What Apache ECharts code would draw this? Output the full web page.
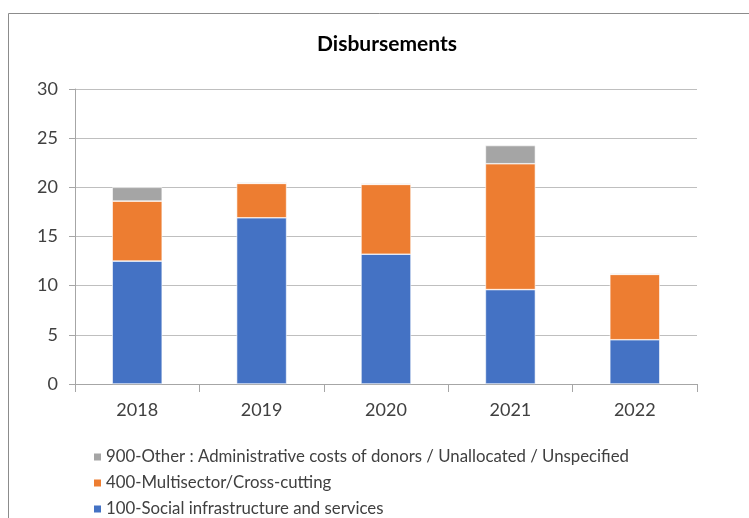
<!DOCTYPE html>
<html>
<head>
<meta charset="utf-8">
<script src="https://cdn.jsdelivr.net/npm/echarts@6/dist/echarts.min.js"></script>
<style>
  html, body { margin: 0; padding: 0; background: #fff; }
  #chart { width: 749px; height: 518px; }
</style>
</head>
<body>
<div id="chart"></div>
<script>
// Disbursements by sector, stacked per year
const years = ['2018', '2019', '2020', '2021', '2022'];
const socialInfra = [12.5, 16.9, 13.2, 9.6, 4.5];
const multisector = [6.1, 3.5, 7.1, 12.8, 6.65];
const otherUnalloc = [1.4, 0.1, 0.1, 1.85, 0.1];
const yTicks = [0, 5, 10, 15, 20, 25, 30];

const names = {
  social: '100-Social infrastructure and services',
  multi: '400-Multisector/Cross-cutting',
  other: '900-Other : Administrative costs of donors / Unallocated / Unspecified'
};

const font = 'Lato, "Liberation Sans", Arial, sans-serif';
const chart = echarts.init(document.getElementById('chart'), null, { renderer: 'canvas' });

const barStyle = (color) => ({ color: color, borderColor: '#ffffff', borderWidth: 0.6 });

chart.setOption({
  animation: false,
  backgroundColor: '#ffffff',
  textStyle: { fontFamily: font },
  graphic: [{
    type: 'rect',
    shape: { x: 8.5, y: 13.5, width: 760, height: 520 },
    style: { fill: 'none', stroke: '#8c8c8c', lineWidth: 1 },
    silent: true,
    z: -1
  }],
  title: {
    text: 'Disbursements',
    left: 382,
    textAlign: 'center',
    top: 29,
    textStyle: { fontFamily: font, fontSize: 21, fontWeight: 'bold', color: '#000000' }
  },
  legend: {
    orient: 'vertical',
    left: 87,
    top: 443,
    height: 120,
    itemWidth: 9,
    itemHeight: 9,
    itemGap: 8,
    icon: 'rect',
    data: [names.other, names.multi, names.social],
    textStyle: { fontFamily: font, fontSize: 16.8, color: '#404040', lineHeight: 18, padding: [0, 0, 0, -1] }
  },
  grid: { left: 75, right: 52, top: 89, bottom: 134, containLabel: false },
  xAxis: {
    type: 'category',
    data: years,
    axisLine: { lineStyle: { color: '#a6a6a6', width: 1 } },
    axisTick: { show: true, length: 8, lineStyle: { color: '#a6a6a6' } },
    axisLabel: { fontFamily: font, fontSize: 18, color: '#404040', margin: 17 }
  },
  yAxis: {
    type: 'value',
    min: 0,
    max: 30,
    interval: 5,
    axisLine: { show: true, lineStyle: { color: '#a6a6a6', width: 1 } },
    axisTick: { show: true, length: 6, lineStyle: { color: '#a6a6a6' } },
    axisLabel: {
      fontFamily: font, fontSize: 18, color: '#404040', margin: 17,
      formatter: (v) => (yTicks.indexOf(v) >= 0 ? String(v) : '')
    },
    splitLine: { lineStyle: { color: '#bfbfbf', width: 1 } }
  },
  series: [
    { name: names.social, type: 'bar', stack: 'total', barWidth: 50, data: socialInfra, itemStyle: barStyle('#4472C4') },
    { name: names.multi, type: 'bar', stack: 'total', barWidth: 50, data: multisector, itemStyle: barStyle('#ED7D31') },
    { name: names.other, type: 'bar', stack: 'total', barWidth: 50, data: otherUnalloc, itemStyle: barStyle('#A5A5A5') }
  ]
});
</script>
</body>
</html>
